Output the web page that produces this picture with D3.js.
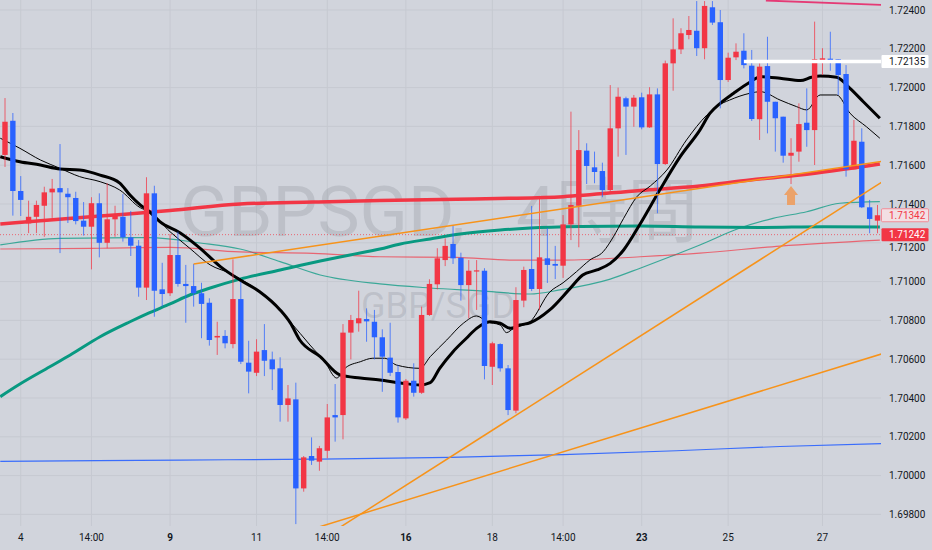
<!DOCTYPE html>
<html>
<head>
<meta charset="utf-8">
<script src="https://cdn.jsdelivr.net/npm/d3@7"></script>
<style>
  html, body { margin: 0; padding: 0; background: #d1d4dc; }
  svg { display: block; font-family: Roboto, "Noto Sans CJK JP", sans-serif; }
</style>
</head>
<body>
<div id="chart"></div>
<script>
// GBPSGD 4h candles (index 0 = first visible bar)
var opens = [1.71653,1.71829,1.71467,1.71300,1.71334,1.71391,1.71460,1.71482,1.71453,1.71431,
  1.71314,1.71283,1.71404,1.71200,1.71321,1.71334,1.71228,1.71185,1.70969,1.71455,
  1.70960,1.70940,1.71137,1.70988,1.70977,1.70940,1.70891,1.70712,1.70720,1.70678,
  1.70910,1.70582,1.70530,1.70647,1.70599,1.70553,1.70364,1.70393,1.69934,1.70101,
  1.70072,1.70128,1.70312,1.70312,1.70737,1.70785,1.70807,1.70793,1.70713,1.70608,
  1.70534,1.70295,1.70489,1.70427,1.70828,1.70986,1.71111,1.71194,1.71123,1.70982,
  1.71052,1.71056,1.70561,1.70678,1.70553,1.70335,1.70902,1.71065,1.70962,1.71120,
  1.71091,1.71082,1.71295,1.71391,1.71675,1.71589,1.71570,1.71472,1.71790,1.71945,
  1.71902,1.71950,1.71795,1.71965,1.71606,1.72125,1.72197,1.72271,1.72293,1.72203,
  1.72414,1.72337,1.72039,1.72156,1.72190,1.72113,1.71837,1.72111,1.71927,1.71850,
  1.71649,1.71670,1.71819,1.71781,1.72137,1.72149,1.72146,1.72070,1.71579,1.71721,
  1.71383,1.71314];
var highs = [1.71946,1.71869,1.71544,1.71417,1.71417,1.71489,1.71529,1.71709,1.71482,1.71463,
  1.71410,1.71435,1.71455,1.71507,1.71391,1.71451,1.71364,1.71214,1.71538,1.71494,
  1.71097,1.71245,1.71257,1.71086,1.71091,1.70994,1.70914,1.70793,1.70750,1.71115,
  1.70999,1.70695,1.70703,1.70781,1.70639,1.70610,1.70467,1.70479,1.70101,1.70197,
  1.70153,1.70369,1.70472,1.70781,1.70828,1.70953,1.70862,1.70854,1.70754,1.70788,
  1.70570,1.70498,1.70579,1.70871,1.71012,1.71172,1.71223,1.71287,1.71149,1.71111,
  1.71111,1.71069,1.70690,1.70682,1.70570,1.70971,1.71077,1.71390,1.71441,1.71276,
  1.71184,1.71343,1.71876,1.71781,1.71713,1.71670,1.71613,1.72013,1.72000,1.71953,
  1.71962,1.71974,1.72002,1.71996,1.72139,1.72357,1.72306,1.72369,1.72446,1.72446,
  1.72446,1.72400,1.72180,1.72228,1.72280,1.72194,1.72125,1.72262,1.71927,1.71850,
  1.71739,1.71919,1.71996,1.72340,1.72203,1.72288,1.72146,1.72116,1.71833,1.71790,
  1.71421,1.71395];
var lows = [1.71591,1.71340,1.71338,1.71250,1.71250,1.71231,1.71328,1.71147,1.71302,1.71295,
  1.71237,1.71063,1.71125,1.71172,1.71231,1.71206,1.71132,1.70922,1.70905,1.70819,
  1.70871,1.70926,1.70974,1.70788,1.70871,1.70708,1.70670,1.70622,1.70656,1.70656,
  1.70575,1.70424,1.70513,1.70513,1.70441,1.70278,1.70278,1.69750,1.69917,1.70055,
  1.70025,1.70089,1.70175,1.70187,1.70599,1.70742,1.70690,1.70599,1.70432,1.70513,
  1.70273,1.70287,1.70407,1.70421,1.70823,1.70960,1.71080,1.71091,1.70902,1.70811,
  1.70854,1.70496,1.70467,1.70536,1.70312,1.70321,1.70868,1.70951,1.70854,1.70993,
  1.71013,1.71019,1.71214,1.71177,1.71503,1.71507,1.71435,1.71462,1.71644,1.71653,
  1.71798,1.71785,1.71792,1.71352,1.71601,1.71984,1.72173,1.72249,1.72163,1.72146,
  1.72323,1.71893,1.72029,1.72142,1.72099,1.71828,1.71730,1.71764,1.71670,1.71613,
  1.71503,1.71618,1.71695,1.71601,1.72065,1.72087,1.71962,1.71541,1.71579,1.71379,
  1.71249,1.71249];
var closes = [1.71824,1.71467,1.71421,1.71334,1.71395,1.71460,1.71479,1.71460,1.71435,1.71312,
  1.71283,1.71404,1.71200,1.71321,1.71343,1.71228,1.71185,1.70969,1.71455,1.70953,
  1.70936,1.71137,1.70988,1.70977,1.70940,1.70885,1.70699,1.70720,1.70682,1.70910,
  1.70587,1.70536,1.70639,1.70592,1.70548,1.70364,1.70398,1.69934,1.70094,1.70077,
  1.70141,1.70300,1.70300,1.70737,1.70802,1.70811,1.70795,1.70713,1.70613,1.70530,
  1.70300,1.70489,1.70427,1.70828,1.70988,1.71120,1.71184,1.71120,1.70982,1.71056,
  1.71058,1.70565,1.70682,1.70553,1.70338,1.70905,1.71060,1.70962,1.71125,1.71086,
  1.71082,1.71295,1.71395,1.71678,1.71596,1.71565,1.71472,1.71790,1.71953,1.71902,
  1.71948,1.71795,1.71965,1.71606,1.72125,1.72197,1.72280,1.72297,1.72203,1.72421,
  1.72335,1.72039,1.72154,1.72185,1.72116,1.71838,1.72108,1.71927,1.71842,1.71649,
  1.71664,1.71812,1.71781,1.72146,1.72151,1.72137,1.72065,1.71579,1.71726,1.71383,
  1.71323,1.71342];

// time axis: bar index -> label
var timeTickIndex = [2, 11, 21, 32, 41, 51, 62, 71, 81, 92, 104];
var timeTickLabel = ["4", "14:00", "9", "11", "14:00", "16", "18", "14:00", "23", "25", "27"];
var boldLabels = ["9", "16", "23"];

var priceTicks = [1.698, 1.700, 1.702, 1.704, 1.706, 1.708, 1.710, 1.712, 1.714, 1.716, 1.718, 1.720, 1.722, 1.724];

var maSlow = [[-0.6,1.71644],[1.9,1.71618],[4.5,1.71601],[7.0,1.71580],[9.5,1.71575],[12.1,1.71549],
  [14.6,1.71508],[15.9,1.71446],[17.2,1.71395],[18.4,1.71360],[19.7,1.71309],[22.3,1.71251],
  [24.8,1.71173],[27.4,1.71077],[29.9,1.71008],[32.4,1.70948],[35.0,1.70854],[36.3,1.70787],
  [37.5,1.70699],[40.1,1.70613],[42.6,1.70519],[45.2,1.70503],[47.7,1.70493],[50.3,1.70477],
  [52.8,1.70467],[54.1,1.70479],[55.3,1.70553],[57.0,1.70639],[58.7,1.70708],[60.0,1.70759],
  [61.7,1.70793],[63.0,1.70785],[64.3,1.70759],[65.5,1.70776],[66.8,1.70788],[69.3,1.70854],
  [71.9,1.70965],[73.5,1.71034],[75.3,1.71060],[77.0,1.71094],[78.7,1.71163],[80.8,1.71297],
  [83.3,1.71472],[85.9,1.71644],[88.4,1.71781],[89.7,1.71868],[91.0,1.71919],[92.7,1.71971],
  [94.8,1.72029],[96.1,1.72056],[98.6,1.72048],[101.2,1.72036],[102.6,1.72053],[103.7,1.72060],
  [105.8,1.72053],[107.5,1.71996],[109.2,1.71927],[111.3,1.71842]];
var maFast = [[-0.6,1.71739],[1.9,1.71687],[4.5,1.71627],[7.0,1.71584],[9.5,1.71541],[12.1,1.71515],
  [14.6,1.71472],[17.2,1.71381],[18.4,1.71360],[21.0,1.71257],[23.5,1.71172],[26.1,1.71086],
  [28.6,1.71043],[31.2,1.70982],[33.7,1.70905],[36.3,1.70792],[38.8,1.70673],[40.7,1.70586],
  [42.2,1.70503],[43.3,1.70555],[45.2,1.70587],[46.8,1.70605],[48.3,1.70605],[49.8,1.70570],
  [52.8,1.70553],[54.1,1.70613],[56.2,1.70699],[58.3,1.70785],[60.0,1.70823],[61.3,1.70793],
  [63.0,1.70776],[63.8,1.70737],[64.7,1.70759],[66.8,1.70793],[69.3,1.70946],[71.0,1.70994],
  [72.7,1.71051],[74.4,1.71111],[76.1,1.71154],[77.4,1.71231],[78.7,1.71326],[80.4,1.71438],
  [82.1,1.71493],[84.2,1.71575],[86.7,1.71730],[89.3,1.71859],[90.5,1.71902],[92.2,1.71936],
  [94.8,1.71971],[96.1,1.71979],[98.6,1.71936],[100.7,1.71902],[102.0,1.71885],[103.7,1.71962],
  [105.8,1.71962],[107.5,1.71868],[109.6,1.71798],[111.3,1.71739]];
var maLongRed = [[-0.6,1.71297],[12.1,1.71338],[21.0,1.71366],[29.9,1.71400],[39.2,1.71410],
  [47.7,1.71418],[57.4,1.71424],[64.2,1.71429],[71.0,1.71438],[80.8,1.71470],[88.4,1.71493],
  [94.8,1.71524],[101.1,1.71549],[111.3,1.71606]];
var maThinRed = [[-0.6,1.71168],[12.1,1.71172],[21.0,1.71176],[29.9,1.71153],[39.2,1.71146],
  [47.7,1.71128],[57.4,1.71125],[64.2,1.71111],[71.0,1.71111],[80.8,1.71128],[88.4,1.71147],
  [98.6,1.71183],[111.3,1.71214]];
var maTealThick = [[-0.6,1.70407],[1.9,1.70472],[5.7,1.70561],[8.3,1.70622],[12.1,1.70716],
  [15.9,1.70793],[18.4,1.70840],[21.0,1.70885],[23.5,1.70931],[26.1,1.70967],[29.9,1.71013],
  [35.0,1.71060],[40.1,1.71106],[43.9,1.71137],[47.7,1.71168],[50.3,1.71194],[54.1,1.71220],
  [57.9,1.71245],[63.0,1.71266],[66.8,1.71276],[73.2,1.71284],[80.8,1.71287],[88.4,1.71281],
  [96.1,1.71279],[104.1,1.71283],[111.3,1.71281]];
var maTealThin = [[-0.6,1.71189],[7.0,1.71223],[18.4,1.71227],[24.8,1.71199],[29.9,1.71168],
  [35.0,1.71103],[40.1,1.71034],[47.7,1.70988],[54.1,1.70967],[60.4,1.70952],[66.8,1.70936],
  [70.6,1.70957],[77.0,1.71013],[80.8,1.71069],[84.6,1.71128],[88.4,1.71189],[93.5,1.71276],
  [97.7,1.71326],[102.0,1.71360],[106.2,1.71404],[111.3,1.71412]];
var maBlue = [[-0.6,1.70073],[22.3,1.70080],[39.4,1.70085],[56.6,1.70094],[71.0,1.70108],
  [85.4,1.70128],[98.6,1.70150],[111.5,1.70165]];

// drawn trend lines [bar index, price]
var trendUpper = [[24, 1.71091], [111.5, 1.71620]];
var trendSteep = [[40, 1.69666], [112, 1.71524]];
var trendLow = [[38, 1.69711], [112, 1.70633]];
var trendPink = [[96.8, 1.72449], [111.5, 1.72426]];

var whiteLevel = 1.72135, whiteFrom = 94;
var lastPrice = 1.71342;
var markPrice = 1.71242;
var arrowBar = 100;

!function(){
  var W = 932, H = 550, plotW = 881, plotH = 526;
  var fmt = d3.format('.5f');

  var x = d3.scaleLinear().domain([0, 111]).range([5, 877.5]);
  var y = d3.scaleLinear().domain([1.698, 1.724]).range([514.4, 10]);
  var bw = 5.4;

  var svg = d3.select('#chart').append('svg')
    .attr('width', W)
    .attr('height', H);

  svg.append('rect').attr('width', W).attr('height', H).attr('fill', '#d1d4dc');

  svg.append('clipPath').attr('id', 'plot')
    .append('rect').attr('width', plotW).attr('height', plotH);

  var g = svg.append('g').attr('clip-path', 'url(#plot)');

  // grid
  g.selectAll('.hgrid').data(priceTicks).enter().append('line')
    .attr('x1', 0).attr('x2', plotW)
    .attr('y1', function(d){ return y(d); }).attr('y2', function(d){ return y(d); })
    .style('stroke', '#c6c9d1').style('stroke-width', 1);
  g.selectAll('.vgrid').data(timeTickIndex).enter().append('line')
    .attr('y1', 0).attr('y2', plotH)
    .attr('x1', function(d){ return x(d); }).attr('x2', function(d){ return x(d); })
    .style('stroke', '#c6c9d1').style('stroke-width', 1);

  // watermark
  var wm = g.append('text')
    .attr('y', 236)
    .style('font-size', '71px')
    .style('fill', '#787b86')
    .style('fill-opacity', 0.22);
  wm.append('tspan').attr('x', 180).text('GBPSGD,');
  wm.append('tspan').attr('x', 516).text('4時間');
  g.append('text')
    .attr('x', 438).attr('y', 318)
    .attr('text-anchor', 'middle')
    .style('font-size', '36px')
    .style('fill', '#787b86')
    .style('fill-opacity', 0.22)
    .text('GBP/SGD');

  var line = d3.line()
    .x(function(d){ return x(d[0]); })
    .y(function(d){ return y(d[1]); })
    .curve(d3.curveMonotoneX);
  var straight = d3.line()
    .x(function(d){ return x(d[0]); })
    .y(function(d){ return y(d[1]); });

  function path(data, gen, color, width, opacity){
    g.append('path')
      .datum(data)
      .attr('d', gen)
      .style('fill', 'none')
      .style('stroke', color)
      .style('stroke-width', width)
      .style('stroke-opacity', opacity || 1)
      .style('stroke-linejoin', 'round');
  }

  // current price dotted line
  g.append('line')
    .attr('x1', 0).attr('x2', plotW)
    .attr('y1', y(markPrice)).attr('y2', y(markPrice))
    .style('stroke', '#f23645')
    .style('stroke-opacity', 0.7)
    .style('stroke-dasharray', '1,2');

  path(maBlue, line, '#2962ff', 1.2, 0.9);
  path(maTealThin, line, '#089981', 1.2, 0.75);
  path(maThinRed, line, '#f23645', 1.2, 0.7);
  path(maTealThick, line, '#089981', 3);
  path(maLongRed, line, '#f23645', 3.5);
  path(maFast, line, '#000000', 1);
  path(maSlow, line, '#000000', 3);

  // candles
  var bars = d3.range(opens.length).map(function(i){
    return {i: i, o: opens[i], h: highs[i], l: lows[i], c: closes[i]};
  });
  var cg = g.selectAll('.bar').data(bars).enter().append('g');
  cg.append('line')
    .attr('x1', function(d){ return x(d.i); })
    .attr('x2', function(d){ return x(d.i); })
    .attr('y1', function(d){ return y(d.h); })
    .attr('y2', function(d){ return y(d.l); })
    .style('stroke', function(d){ return d.c >= d.o ? '#f23645' : '#2962ff'; })
    .style('stroke-opacity', 0.75)
    .style('stroke-width', 1);
  cg.append('rect')
    .attr('x', function(d){ return x(d.i) - bw / 2; })
    .attr('width', bw)
    .attr('y', function(d){ return y(Math.max(d.o, d.c)); })
    .attr('height', function(d){ return Math.max(1.2, Math.abs(y(d.o) - y(d.c))); })
    .style('fill', function(d){ return d.c >= d.o ? '#f23645' : '#2962ff'; });

  // drawings
  path(trendUpper, straight, '#f7931a', 1.5);
  path(trendSteep, straight, '#f7931a', 1.5);
  path(trendLow, straight, '#f7931a', 1.5);
  path(trendPink, straight, '#e91e63', 1.8, 0.85);

  g.append('line')
    .attr('x1', x(whiteFrom)).attr('x2', plotW)
    .attr('y1', y(whiteLevel)).attr('y2', y(whiteLevel))
    .style('stroke', '#ffffff')
    .style('stroke-width', 3.5);

  // arrow under the low of the marked bar
  var ax = x(arrowBar), ay = y(lows[arrowBar]) + 2;
  g.append('path')
    .attr('d', 'M' + ax + ',' + ay +
      ' L' + (ax + 7) + ',' + (ay + 9) +
      ' L' + (ax + 4) + ',' + (ay + 9) +
      ' L' + (ax + 4) + ',' + (ay + 19) +
      ' L' + (ax - 4) + ',' + (ay + 19) +
      ' L' + (ax - 4) + ',' + (ay + 9) +
      ' L' + (ax - 7) + ',' + (ay + 9) + 'Z')
    .style('fill', '#eba26a');

  // price axis; a tick label hidden by a price tag slips just below it
  var tags = [whiteLevel, lastPrice, markPrice];
  svg.selectAll('.ptick').data(priceTicks).enter().append('text')
    .attr('x', 889)
    .attr('y', function(d){
      var ty = y(d);
      tags.forEach(function(t){
        if (Math.abs(y(t) - ty) < 9) ty = y(t) + 13;
      });
      return ty + 3.5;
    })
    .style('font-size', '10px')
    .style('fill', '#131722')
    .text(function(d){ return fmt(d); });

  function tag(price, fill, stroke, color){
    var ty = y(price);
    svg.append('rect')
      .attr('x', 881.5).attr('y', ty - 6.5)
      .attr('width', 47).attr('height', 13)
      .attr('rx', 1)
      .style('fill', fill)
      .style('stroke', stroke || 'none');
    svg.append('text')
      .attr('x', 889).attr('y', ty + 3.5)
      .style('font-size', '10px')
      .style('fill', color)
      .text(fmt(price));
  }
  tag(whiteLevel, '#ffffff', null, '#131722');
  tag(lastPrice, '#f3dfe3', '#f28b96', '#f23645');
  tag(markPrice, '#f23645', null, '#ffffff');

  // time axis
  svg.selectAll('.ttick').data(timeTickIndex).enter().append('text')
    .attr('x', function(d){ return x(d); })
    .attr('y', 541)
    .attr('text-anchor', 'middle')
    .style('font-size', '10px')
    .style('fill', '#131722')
    .style('font-weight', function(d, i){ return boldLabels.indexOf(timeTickLabel[i]) >= 0 ? 700 : 400; })
    .text(function(d, i){ return timeTickLabel[i]; });
}();
</script>
</body>
</html>
